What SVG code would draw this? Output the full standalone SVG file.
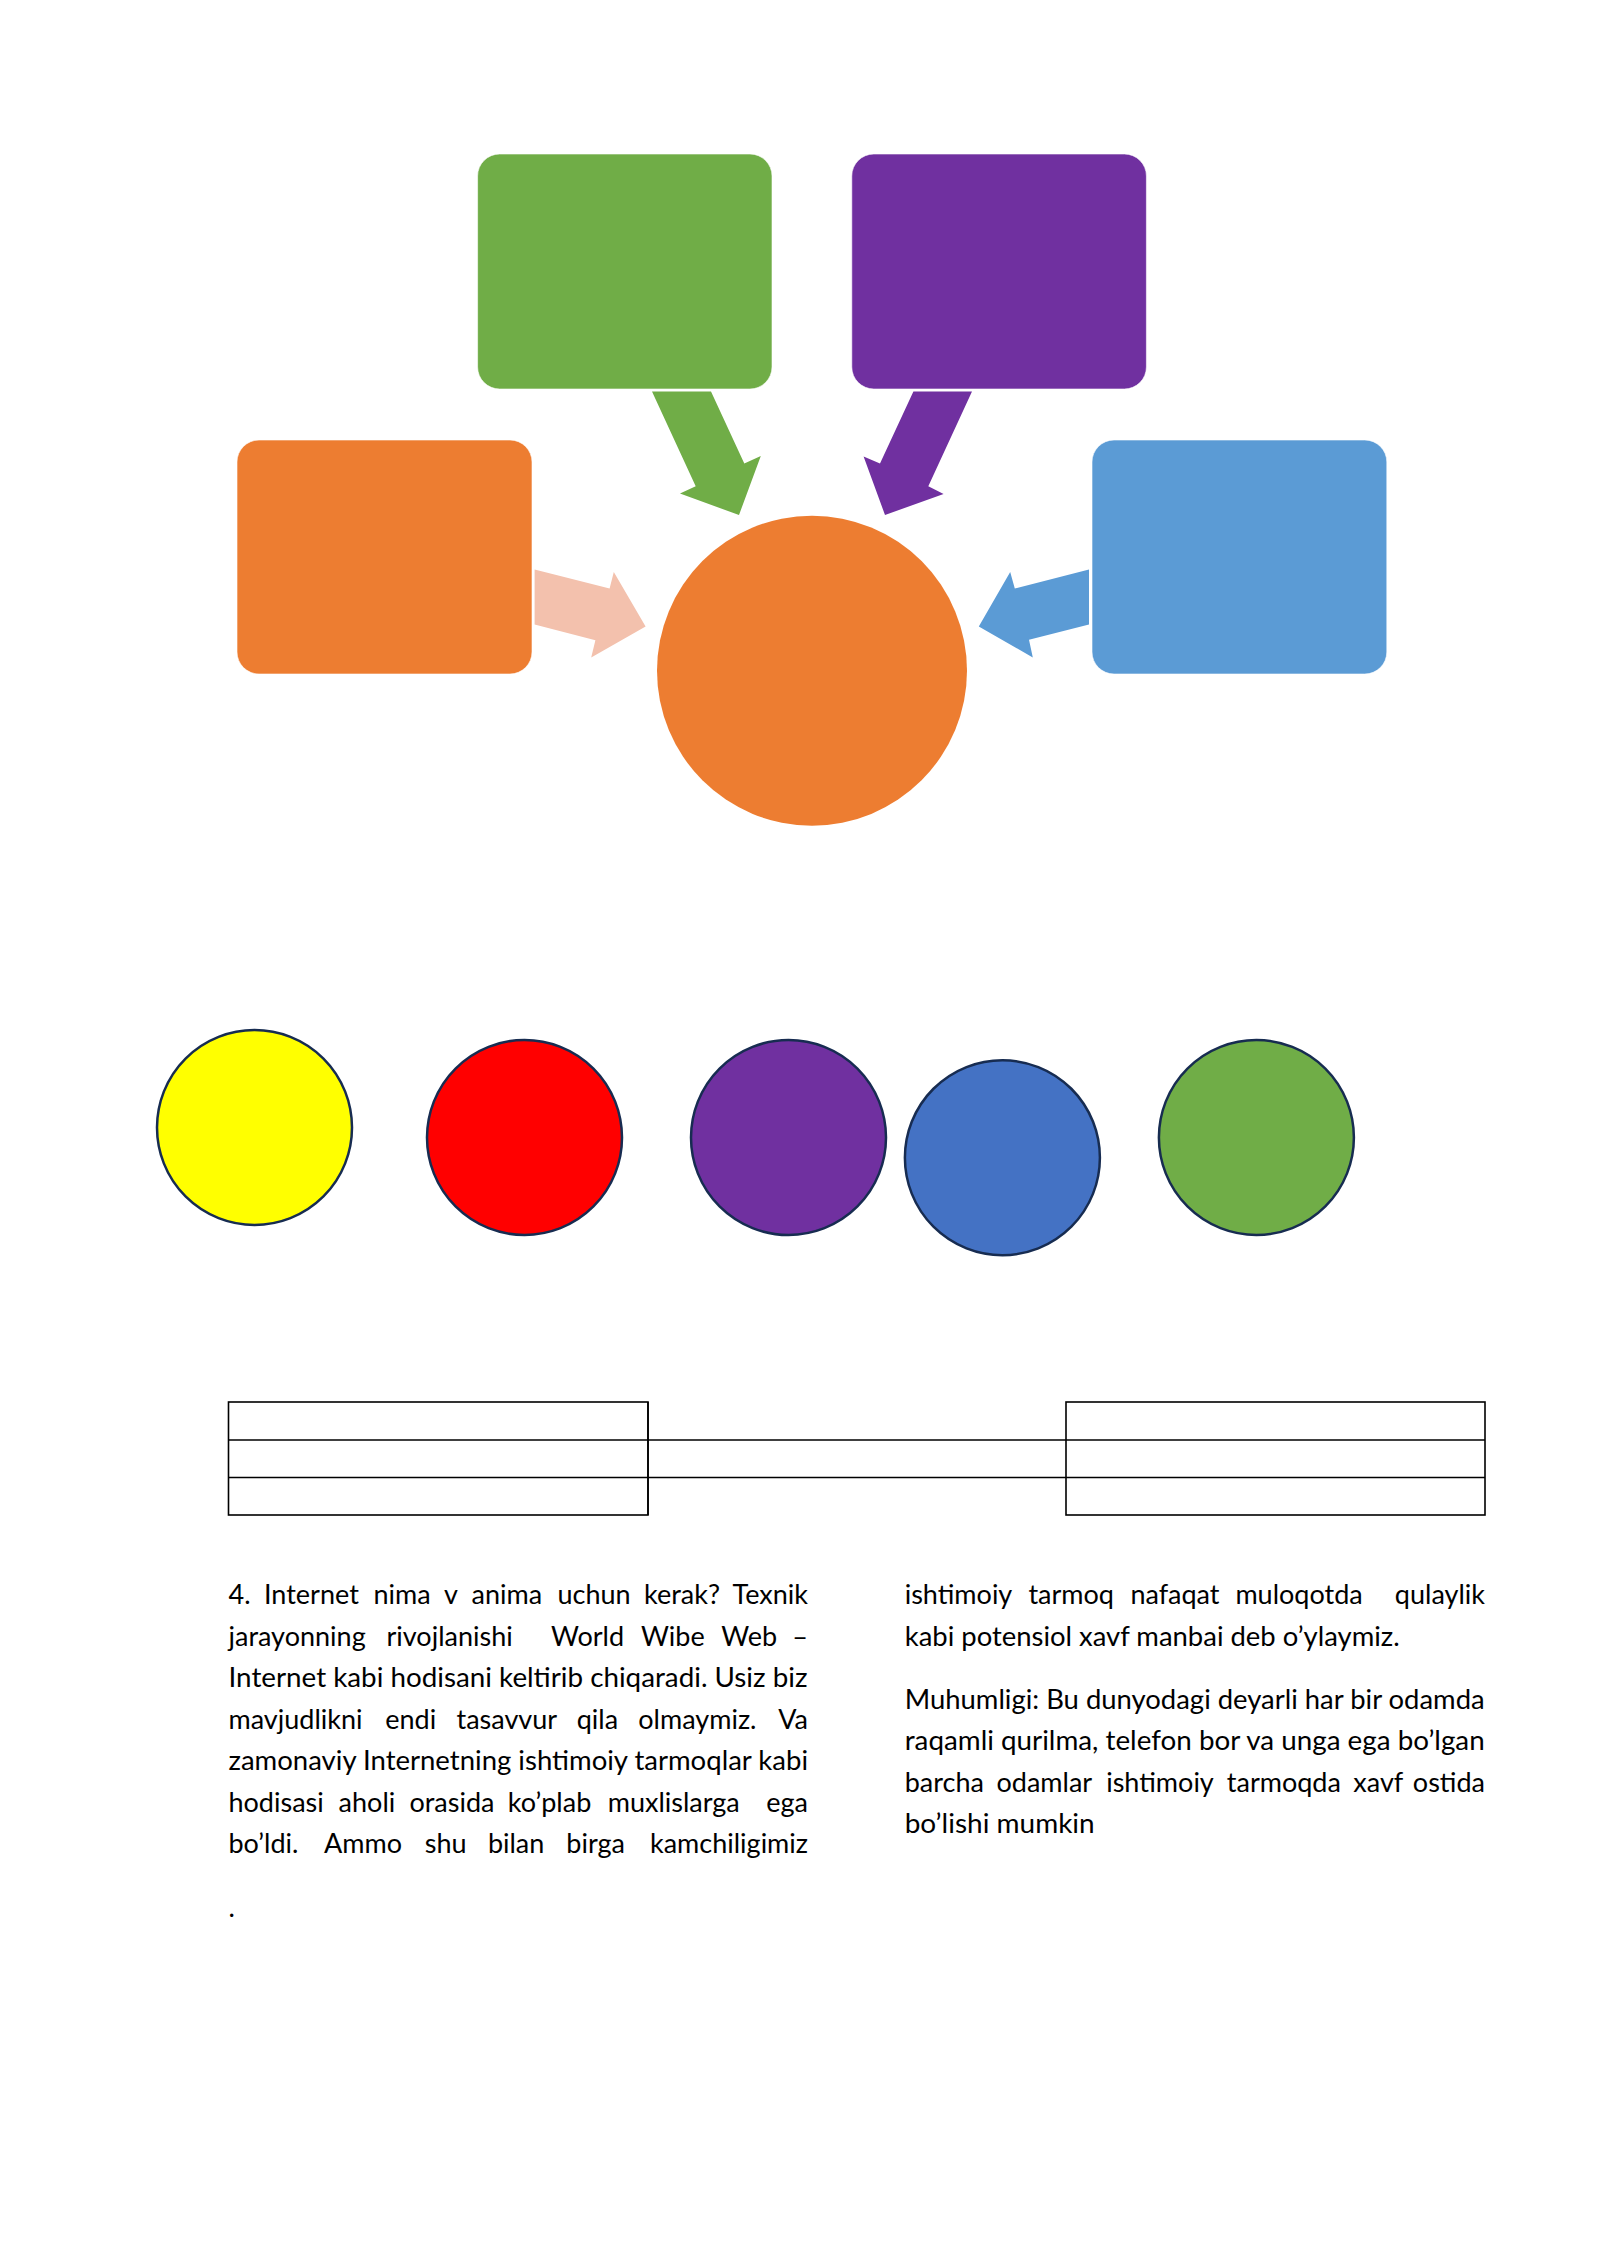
<svg xmlns="http://www.w3.org/2000/svg" width="1600" height="2262" viewBox="0 0 1600 2262">
<style>
.bg{fill:#ffffff}
.box{stroke:#ffffff;stroke-width:1;stroke-opacity:0.6}
.dot{stroke:#172C51;stroke-width:2.5}
.tbl{fill:none;stroke:#000000;stroke-width:1.6}
.txt{font-family:"Lato","Carlito","Liberation Sans",sans-serif;font-size:27px;fill:#000000}
.e{text-anchor:end}
</style>
<rect class="bg" x="0" y="0" width="1600" height="2262"/>

<g id="connectors">
  <polygon id="arrow-green" fill="#70AD47" points="652,391.4 711,391.4 744.3,463.4 760.8,456 739,515 680,493.6 695.7,486.3"/>
  <polygon id="arrow-purple" fill="#7030A0" points="972,391.4 913.4,391.4 880,463.4 863.6,456.5 885,515 943.6,494 928.3,486.3"/>
  <polygon id="arrow-pink" fill="#F3C1AD" points="534.6,569.4 609.6,588.5 613.8,572 645.6,626.4 591.2,657.4 595.4,640.2 534.6,624.5"/>
  <polygon id="arrow-blue" fill="#5B9BD5" points="1089,569.4 1014.8,588.5 1010.2,572 978.8,626.4 1032.8,657.4 1029,639.8 1089,624.5"/>
</g>

<g id="node-green"><rect class="box" x="477.6" y="154" width="294.4" height="235" rx="22" ry="22" fill="#70AD47"/></g>
<g id="node-purple"><rect class="box" x="851.8" y="154" width="294.6" height="235" rx="22" ry="22" fill="#7030A0"/></g>
<g id="node-orange"><rect class="box" x="237" y="440" width="295" height="234" rx="22" ry="22" fill="#ED7D31"/></g>
<g id="node-blue"><rect class="box" x="1092" y="440" width="294.8" height="234" rx="22" ry="22" fill="#5B9BD5"/></g>
<g id="node-center"><circle cx="812" cy="670.7" r="155" fill="#ED7D31"/></g>

<g id="dot-yellow"><circle class="dot" cx="254.5" cy="1127.5" r="97.5" fill="#FFFF00"/></g>
<g id="dot-red"><circle class="dot" cx="524.5" cy="1137.5" r="97.5" fill="#FF0000"/></g>
<g id="dot-purple"><circle class="dot" cx="788.5" cy="1137.5" r="97.5" fill="#7030A0"/></g>
<g id="dot-blue"><circle class="dot" cx="1002.4" cy="1157.7" r="97.5" fill="#4472C4"/></g>
<g id="dot-green"><circle class="dot" cx="1256.4" cy="1137.5" r="97.5" fill="#70AD47"/></g>

<g id="table">
  <rect class="tbl" x="228.5" y="1402" width="419.5" height="113"/>
  <line class="tbl" x1="228.5" y1="1440" x2="1485" y2="1440"/>
  <line class="tbl" x1="228.5" y1="1477.5" x2="1485" y2="1477.5"/>
  <line class="tbl" x1="648" y1="1402" x2="648" y2="1515"/>
  <rect class="tbl" x="1066" y="1402" width="419" height="113"/>
</g>

<g id="text-left" class="txt">
  <text y="1604"><tspan x="228.5">4.</tspan><tspan x="264">Internet</tspan><tspan x="373.5">nima</tspan><tspan x="444">v</tspan><tspan x="471.5">anima</tspan><tspan x="557.5">uchun</tspan><tspan x="644">kerak?</tspan><tspan class="e" x="808">Texnik</tspan></text>
  <text y="1645.5"><tspan x="228.5">jarayonning</tspan><tspan x="386.5">rivojlanishi</tspan><tspan x="551">World</tspan><tspan x="641">Wibe</tspan><tspan x="721.3">Web</tspan><tspan class="e" x="808">–</tspan></text>
  <text x="228.5" y="1687" textLength="579" lengthAdjust="spacingAndGlyphs">Internet kabi hodisani keltirib chiqaradi. Usiz biz</text>
  <text y="1728.5"><tspan x="228.5">mavjudlikni</tspan><tspan x="385.3">endi</tspan><tspan x="456.5">tasavvur</tspan><tspan x="576.7">qila</tspan><tspan x="638.3">olmaymiz.</tspan><tspan class="e" x="808">Va</tspan></text>
  <text x="228.5" y="1770" textLength="579.5" lengthAdjust="spacingAndGlyphs">zamonaviy Internetning ishtimoiy tarmoqlar kabi</text>
  <text y="1811.5"><tspan x="228.5">hodisasi</tspan><tspan x="338.6">aholi</tspan><tspan x="409.4">orasida</tspan><tspan x="507.8">ko’plab</tspan><tspan x="607.7">muxlislarga</tspan><tspan class="e" x="808">ega</tspan></text>
  <text y="1852.5"><tspan x="228.5">bo’ldi.</tspan><tspan x="324">Ammo</tspan><tspan x="424.7">shu</tspan><tspan x="487.9">bilan</tspan><tspan x="566.3">birga</tspan><tspan class="e" x="808">kamchiligimiz</tspan></text>
  <text x="228.5" y="1917">.</text>
</g>

<g id="text-right" class="txt">
  <text y="1604"><tspan x="904.7">ishtimoiy</tspan><tspan x="1028.4">tarmoq</tspan><tspan x="1130.4">nafaqat</tspan><tspan x="1235.4">muloqotda</tspan><tspan class="e" x="1485">qulaylik</tspan></text>
  <text x="904.7" y="1646" textLength="495" lengthAdjust="spacingAndGlyphs">kabi potensiol xavf manbai deb o’ylaymiz.</text>
  <text x="904.7" y="1708.6" textLength="580" lengthAdjust="spacingAndGlyphs">Muhumligi: Bu dunyodagi deyarli har bir odamda</text>
  <text x="904.7" y="1750" textLength="580" lengthAdjust="spacingAndGlyphs">raqamli qurilma, telefon bor va unga ega bo’lgan</text>
  <text y="1791.5"><tspan x="904.7">barcha</tspan><tspan x="996.5">odamlar</tspan><tspan x="1106.2">ishtimoiy</tspan><tspan x="1226.8">tarmoqda</tspan><tspan x="1353.3">xavf</tspan><tspan class="e" x="1485">ostida</tspan></text>
  <text x="904.7" y="1833" textLength="190" lengthAdjust="spacingAndGlyphs">bo’lishi mumkin</text>
</g>
</svg>
